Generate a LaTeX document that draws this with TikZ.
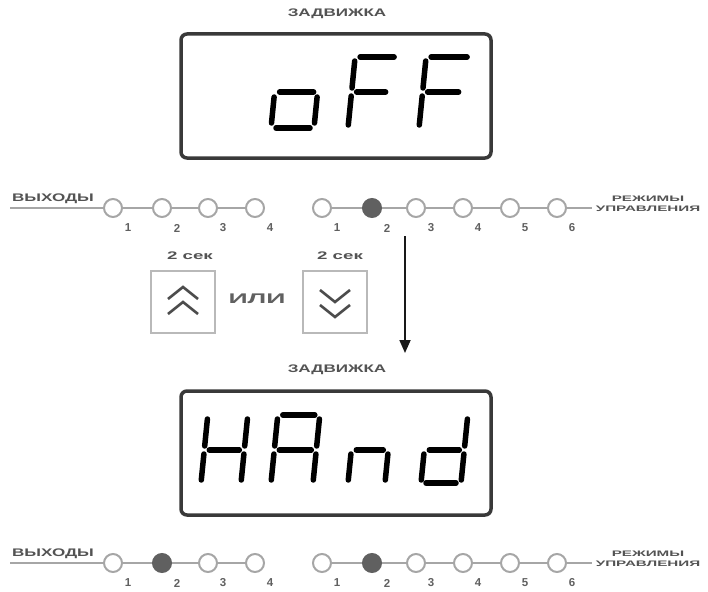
\documentclass[tikz,border=0pt]{standalone}
\usepackage{fontspec}
\setmainfont{Liberation Sans}
\usetikzlibrary{arrows.meta}
\newcommand\widetxt[2]{\scalebox{#1}[1]{#2}}
\tikzset{
  led/.style={circle, draw=gray!70, line width=2pt, minimum size=18pt, inner sep=0pt},
  ledon/.style={led, fill=gray!75!black, draw=gray!75!black},
  chain/.style={draw=gray!70, line width=1.6pt},
  num/.style={font=\fontsize{11.5}{11.5}\selectfont\bfseries, text=gray!75!black, inner sep=0pt},
  lab/.style={font=\fontsize{11}{11}\selectfont\bfseries, text=gray!65!black, inner sep=0pt},
  disp/.style={draw=gray!45!black, line width=3.5pt, rounded corners=6pt, fill=white, minimum width=310pt, minimum height=124pt, inner sep=0pt},
  seg/.style={line width=5.5pt, line cap=round, draw=black},
  btn/.style={draw=gray!55, line width=1.8pt, minimum width=64pt, minimum height=62pt, inner sep=0pt},
  chev/.style={draw=gray!60!black, line width=2.6pt},
}
\begin{document}
\begin{tikzpicture}[x=1pt,y=-1pt]
\useasboundingbox (0,0) rectangle (708,591);
% ---------- top state ----------
\node[lab] (t1) at (337,14) {\widetxt{1.55}{ЗАДВИЖКА}};
\node[disp] (d1) at (336,96) {};
\begin{scope}[shift={(0,128)}, xslant=0.1]
  % o
  \draw[seg] (276,-36) -- (310,-36);
  \draw[seg] (271,-31) -- (271,-5);
  \draw[seg] (314,-31) -- (314,-5);
  \draw[seg] (276,0) -- (310,0);
  % F
  \draw[seg] (348,-67) -- (348,-40);
  \draw[seg] (348,-32) -- (348,-3);
  \draw[seg] (353,-71) -- (387,-71);
  \draw[seg] (353,-36) -- (382,-36);
  % F
  \draw[seg] (419,-67) -- (419,-40);
  \draw[seg] (419,-32) -- (419,-3);
  \draw[seg] (424,-71) -- (460,-71);
  \draw[seg] (424,-36) -- (455,-36);
\end{scope}
% row 1
\node[lab] (o1) at (53,199) {\widetxt{1.55}{ВЫХОДЫ}};
\coordinate (o1s) at (10,208);
\node[led] (a1) at (113,208) {};
\node[led] (a2) at (162,208) {};
\node[led] (a3) at (208,208) {};
\node[led] (a4) at (255,208) {};
\node[led] (b1) at (322,208) {};
\node[ledon] (b2) at (372,208) {};
\node[led] (b3) at (416,208) {};
\node[led] (b4) at (463,208) {};
\node[led] (b5) at (510,208) {};
\node[led] (b6) at (557,208) {};
\draw[chain] (o1s) -- (a1) -- (a2) -- (a3) -- (a4);
\draw[chain] (b1) -- (b2) -- (b3) -- (b4) -- (b5) -- (b6);
\coordinate (r1s) at (592,208);
\draw[chain] (b6) -- (r1s);
\node[lab, font=\fontsize{8}{10}\selectfont\bfseries, align=center] (m1) at (648,204) {\widetxt{1.9}{РЕЖИМЫ}\\\widetxt{1.9}{УПРАВЛЕНИЯ}};
\foreach \n/\k in {a1/1,a2/2,a3/3,a4/4,b1/1,b2/2,b3/3,b4/4,b5/5,b6/6}
  \node[num] (n\n) at ([shift={(15,20)}]\n.center) {\k};
% buttons
\node[lab] (s1) at (190,256) {\widetxt{1.7}{2 сек}};
\node[btn] (k1) at (183,302) {};
\draw[chev] ([shift={(-15,-3)}]k1.center) -- ([shift={(0,-15)}]k1.center) -- ([shift={(15,-3)}]k1.center);
\draw[chev] ([shift={(-15,12)}]k1.center) -- ([shift={(0,0)}]k1.center) -- ([shift={(15,12)}]k1.center);
\node[lab, font=\fontsize{14}{14}\selectfont\bfseries, text=gray!75!black] (or) at (257,299) {\widetxt{1.9}{ИЛИ}};
\node[lab] (s2) at (340,256) {\widetxt{1.7}{2 сек}};
\node[btn] (k2) at (335,302) {};
\draw[chev] ([shift={(-15,-12)}]k2.center) -- ([shift={(0,0)}]k2.center) -- ([shift={(15,-12)}]k2.center);
\draw[chev] ([shift={(-15,3)}]k2.center) -- ([shift={(0,15)}]k2.center) -- ([shift={(15,3)}]k2.center);
% arrow
\coordinate (ar1) at (405,236);
\coordinate (ar2) at (405,353);
\draw[draw=gray!20!black, line width=1.8pt, -{Triangle[length=13pt,width=11pt]}] (ar1) -- (ar2);
% ---------- bottom state ----------
\node[lab] (t2) at (337,370) {\widetxt{1.55}{ЗАДВИЖКА}};
\node[disp] (d2) at (336,453) {};
\begin{scope}[shift={(0,483)}, xslant=0.1]
  % H
  \draw[seg] (201,-64) -- (201,-37);
  \draw[seg] (201,-29) -- (201,-3);
  \draw[seg] (241,-64) -- (241,-37);
  \draw[seg] (241,-29) -- (241,-3);
  \draw[seg] (206,-33) -- (236,-33);
  % A
  \draw[seg] (271,-64) -- (271,-37);
  \draw[seg] (271,-29) -- (271,-3);
  \draw[seg] (313,-64) -- (313,-37);
  \draw[seg] (313,-29) -- (313,-3);
  \draw[seg] (276,-68) -- (308,-68);
  \draw[seg] (276,-33) -- (308,-33);
  % n
  \draw[seg] (348,-29) -- (348,-3);
  \draw[seg] (385,-29) -- (385,-3);
  \draw[seg] (353,-33) -- (380,-33);
  % d
  \draw[seg] (461,-64) -- (461,-37);
  \draw[seg] (461,-29) -- (461,-3);
  \draw[seg] (421,-29) -- (421,-3);
  \draw[seg] (426,-33) -- (456,-33);
  \draw[seg] (426,0) -- (456,0);
\end{scope}
% row 2
\node[lab] (o2) at (53,554) {\widetxt{1.55}{ВЫХОДЫ}};
\coordinate (o2s) at (10,563);
\node[led] (c1) at (113,563) {};
\node[ledon] (c2) at (162,563) {};
\node[led] (c3) at (208,563) {};
\node[led] (c4) at (255,563) {};
\node[led] (e1) at (322,563) {};
\node[ledon] (e2) at (372,563) {};
\node[led] (e3) at (416,563) {};
\node[led] (e4) at (463,563) {};
\node[led] (e5) at (510,563) {};
\node[led] (e6) at (557,563) {};
\draw[chain] (o2s) -- (c1) -- (c2) -- (c3) -- (c4);
\draw[chain] (e1) -- (e2) -- (e3) -- (e4) -- (e5) -- (e6);
\coordinate (r2s) at (592,563);
\draw[chain] (e6) -- (r2s);
\node[lab, font=\fontsize{8}{10}\selectfont\bfseries, align=center] (m2) at (648,559) {\widetxt{1.9}{РЕЖИМЫ}\\\widetxt{1.9}{УПРАВЛЕНИЯ}};
\foreach \n/\k in {c1/1,c2/2,c3/3,c4/4,e1/1,e2/2,e3/3,e4/4,e5/5,e6/6}
  \node[num] (n\n) at ([shift={(15,20)}]\n.center) {\k};
\end{tikzpicture}
\end{document}
